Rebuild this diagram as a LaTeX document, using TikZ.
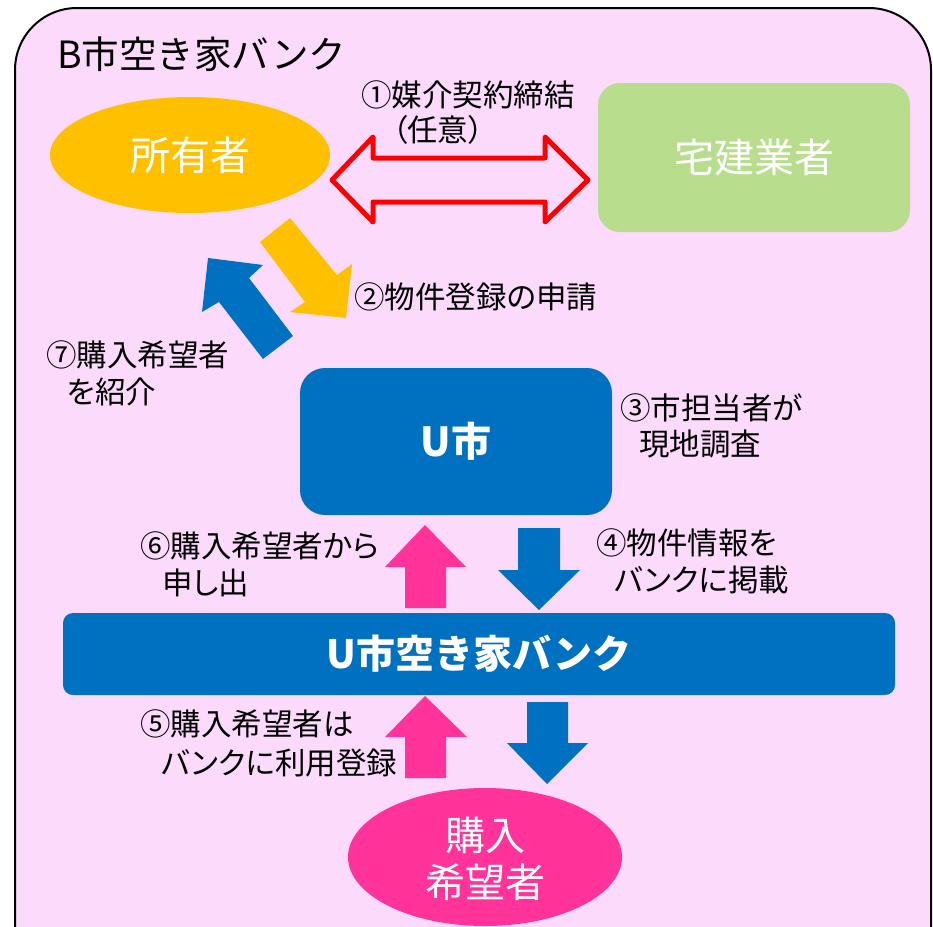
\documentclass[tikz,border=0pt]{standalone}
\usepackage{fontspec}
\usetikzlibrary{shapes.geometric}
\newfontfamily\jp{Noto Sans CJK JP}
\newfontfamily\jpp{Noto Sans CJK JP}[RawFeature=+palt]
\definecolor{bgpink}{RGB}{252,218,252}
\definecolor{orng}{RGB}{255,192,0}
\definecolor{grn}{RGB}{184,222,141}
\definecolor{blu}{RGB}{0,112,192}
\definecolor{pnk}{RGB}{255,51,153}
\tikzset{
  big/.style={font=\jp\fontsize{40}{48}\selectfont, text=white},
  lbl/.style={font=\jpp\fontsize{30.5}{37}\selectfont, text=black, inner sep=0pt, anchor=west},
}
\begin{document}
\begin{tikzpicture}[x=1pt,y=-1pt]
\useasboundingbox (0,0) rectangle (933,926);
\clip (0,0) rectangle (933,926);
\fill[white] (0,0) rectangle (933,926);
% frame
\draw[fill=bgpink, line width=2pt, rounded corners=62pt] (15,1000) -- (15,8) -- (931,8) -- (931,1000);
\node[font=\jp\fontsize{37.5}{44}\selectfont, anchor=west, inner sep=0pt] (title) at (57,54) {B市空き家バンク};

% owner
\node[ellipse, fill=orng, minimum width=280pt, minimum height=116pt, inner sep=0pt] (owner) at (190,155) {};
\node[big] (ownertext) at (owner.center) {所有者};
% realtor
\node[fill=grn, rounded corners=22pt, minimum width=312pt, minimum height=149pt, big] (realtor) at (754,157.5) {宅建業者};

% red double arrow
\draw[red, line width=5pt, line join=round]
  (332,180) -- (373,137) -- (373,158) -- (545,158) -- (545,137) -- (588,180)
  -- (545,222) -- (545,202) -- (373,202) -- (373,222) -- cycle;
\node[lbl] (l1a) at (361,95) {①媒介契約締結};
\node[lbl] (l1b) at (392,130) {（任意）};

% orange arrow (owner -> U city)
\fill[orng] (260,242) -- (290,218) -- (337,275) -- (352,264) -- (346,318) -- (290,312) -- (305,302) -- cycle;
% blue arrow (U city -> owner)
\fill[blu] (208,258) -- (263,265) -- (249,278) -- (293,336) -- (263,359) -- (219,302) -- (202,312) -- cycle;
\node[lbl] (l2) at (354,297) {②物件登録の申請};
\node[lbl] (l7a) at (46,355) {⑦購入希望者};
\node[lbl] (l7b) at (67,392) {を紹介};

% U city
\node[fill=blu, rounded corners=25pt, minimum width=312pt, minimum height=147pt, big, font=\jp\bfseries\fontsize{40}{48}\selectfont] (ucity) at (456,441.5) {U市};
\node[lbl] (l3a) at (620,408) {③市担当者が};
\node[lbl] (l3b) at (639,444) {現地調査};

% arrows between U city and bank
\fill[pnk] (425,525) -- (466,567) -- (446,567) -- (446,608) -- (405,608) -- (405,567) -- (385,567) -- cycle;
\fill[blu] (518,528) -- (560,528) -- (560,570) -- (580,570) -- (539,610) -- (498,570) -- (518,570) -- cycle;
\node[lbl] (l6a) at (140,546) {⑥購入希望者から};
\node[lbl] (l6b) at (162,583) {申し出};
\node[lbl] (l4a) at (596,543) {④物件情報を};
\node[lbl] (l4b) at (614,580) {バンクに掲載};

% bank
\node[fill=blu, rounded corners=10pt, minimum width=832pt, minimum height=82pt, big, font=\jp\bfseries\fontsize{39}{48}\selectfont] (bank) at (479,654) {U市空き家バンク};

% arrows between bank and buyer
\fill[pnk] (425,696) -- (467,737) -- (446,737) -- (446,778) -- (405,778) -- (405,737) -- (385,737) -- cycle;
\fill[blu] (527,702) -- (568,702) -- (568,743) -- (588,743) -- (547,784) -- (507,743) -- (527,743) -- cycle;
\node[lbl] (l5a) at (140,724) {⑤購入希望者は};
\node[lbl] (l5b) at (161,763) {バンクに利用登録};

% buyer
\node[ellipse, fill=pnk, minimum width=274pt, minimum height=138pt, inner sep=0pt] (buyer) at (485,857) {};
\node[big, align=center, font=\jp\fontsize{40}{47}\selectfont] (buyertext) at (485,859) {購入\\希望者};
\end{tikzpicture}
\end{document}
